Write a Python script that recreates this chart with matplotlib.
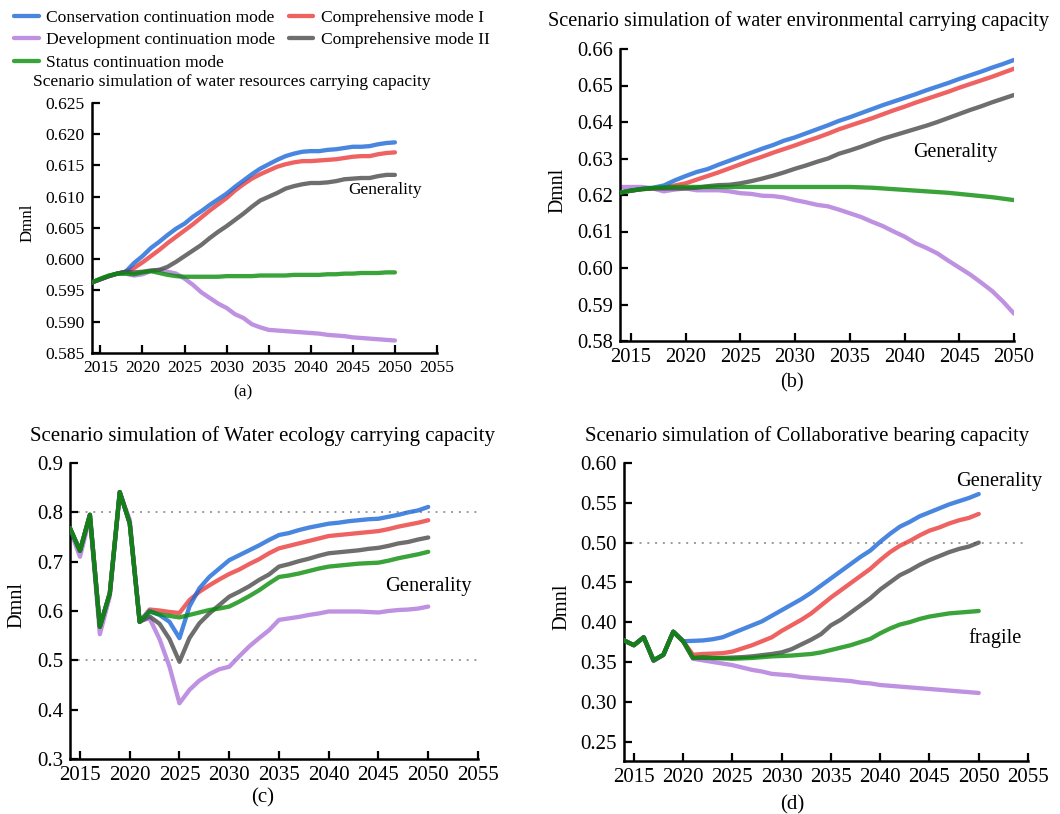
import matplotlib
matplotlib.use("Agg")
import matplotlib.pyplot as plt
import numpy as np

plt.rcParams['font.family'] = ['Liberation Serif', 'DejaVu Serif']

years = list(range(2014, 2051))

series_names = ["Conservation continuation mode", "Development continuation mode",
                "Status continuation mode", "Comprehensive mode I", "Comprehensive mode II"]
colors = {"blue": "#1c68d8", "purple": "#ae76da", "green": "#098c09",
          "red": "#ec3b3b", "gray": "#4a4a4a"}
line_alpha = 0.8

# ---- panel (a): water resources carrying capacity
a_blue = [0.5963, 0.5968, 0.5973, 0.5977, 0.5980, 0.5994, 0.6005, 0.6018, 0.6028, 0.6039,
          0.6049, 0.6057, 0.6068, 0.6077, 0.6087, 0.6096, 0.6105, 0.6116, 0.6126, 0.6136,
          0.6145, 0.6152, 0.6159, 0.6165, 0.6169, 0.6172, 0.6173, 0.6173, 0.6175, 0.6176,
          0.6178, 0.6180, 0.6180, 0.6181, 0.6184, 0.6186, 0.6187]
a_red = [0.5963, 0.5968, 0.5973, 0.5977, 0.5980, 0.5986, 0.5995, 0.6005, 0.6015, 0.6026,
         0.6036, 0.6046, 0.6056, 0.6067, 0.6078, 0.6088, 0.6098, 0.6110, 0.6120, 0.6129,
         0.6136, 0.6142, 0.6148, 0.6152, 0.6155, 0.6157, 0.6157, 0.6158, 0.6159, 0.6160,
         0.6162, 0.6164, 0.6165, 0.6165, 0.6168, 0.6170, 0.6171]
a_gray = [0.5963, 0.5968, 0.5973, 0.5977, 0.5980, 0.5979, 0.5980, 0.5982, 0.5983, 0.5988,
          0.5996, 0.6005, 0.6014, 0.6023, 0.6034, 0.6044, 0.6053, 0.6063, 0.6073, 0.6084,
          0.6094, 0.6100, 0.6106, 0.6113, 0.6117, 0.6120, 0.6122, 0.6122, 0.6123, 0.6125,
          0.6128, 0.6129, 0.6130, 0.6130, 0.6133, 0.6135, 0.6135]
a_purple = [0.5963, 0.5968, 0.5973, 0.5977, 0.5977, 0.5974, 0.5976, 0.5981, 0.5983, 0.5980,
            0.5977, 0.5969, 0.5959, 0.5947, 0.5938, 0.5929, 0.5922, 0.5912, 0.5906, 0.5896,
            0.5891, 0.5887, 0.5886, 0.5885, 0.5884, 0.5883, 0.5882, 0.5881, 0.5879, 0.5878,
            0.5877, 0.5875, 0.5874, 0.5873, 0.5872, 0.5871, 0.5870]
a_green = [0.5963, 0.5969, 0.5974, 0.5977, 0.5977, 0.5976, 0.5979, 0.5981, 0.5978, 0.5975,
           0.5973, 0.5972, 0.5972, 0.5972, 0.5972, 0.5972, 0.5973, 0.5973, 0.5973, 0.5973,
           0.5974, 0.5974, 0.5974, 0.5974, 0.5975, 0.5975, 0.5975, 0.5975, 0.5976, 0.5976,
           0.5977, 0.5977, 0.5978, 0.5978, 0.5978, 0.5979, 0.5979]

# ---- panel (b): water environmental carrying capacity
b_blue = [0.6207, 0.6212, 0.6217, 0.6220, 0.6226, 0.6240, 0.6252, 0.6263, 0.6271, 0.6283,
          0.6294, 0.6305, 0.6316, 0.6327, 0.6337, 0.6349, 0.6358, 0.6369, 0.6380, 0.6391,
          0.6403, 0.6413, 0.6424, 0.6435, 0.6446, 0.6456, 0.6466, 0.6476, 0.6487, 0.6497,
          0.6507, 0.6518, 0.6528, 0.6538, 0.6549, 0.6559, 0.6570]
b_red = [0.6207, 0.6212, 0.6216, 0.6218, 0.6220, 0.6226, 0.6232, 0.6242, 0.6252, 0.6262,
         0.6273, 0.6284, 0.6295, 0.6305, 0.6316, 0.6326, 0.6336, 0.6347, 0.6357, 0.6368,
         0.6380, 0.6390, 0.6400, 0.6410, 0.6421, 0.6432, 0.6442, 0.6453, 0.6463, 0.6473,
         0.6483, 0.6494, 0.6504, 0.6514, 0.6524, 0.6535, 0.6546]
b_gray = [0.6207, 0.6212, 0.6216, 0.6218, 0.6218, 0.6218, 0.6218, 0.6220, 0.6224, 0.6227,
          0.6228, 0.6232, 0.6238, 0.6245, 0.6253, 0.6262, 0.6272, 0.6281, 0.6291, 0.6300,
          0.6313, 0.6322, 0.6332, 0.6343, 0.6354, 0.6363, 0.6372, 0.6381, 0.6390, 0.6400,
          0.6411, 0.6422, 0.6433, 0.6443, 0.6454, 0.6464, 0.6474]
b_purple = [0.6222, 0.6222, 0.6222, 0.6218, 0.6210, 0.6215, 0.6218, 0.6213, 0.6213, 0.6213,
            0.6210, 0.6205, 0.6203, 0.6198, 0.6197, 0.6193, 0.6186, 0.6180, 0.6173, 0.6169,
            0.6160, 0.6150, 0.6140, 0.6127, 0.6115, 0.6100, 0.6086, 0.6068, 0.6055, 0.6040,
            0.6020, 0.6001, 0.5982, 0.5960, 0.5937, 0.5908, 0.5875]
b_green = [0.6206, 0.6212, 0.6216, 0.6219, 0.6221, 0.6222, 0.6222, 0.6222, 0.6222, 0.6222,
           0.6222, 0.6222, 0.6222, 0.6222, 0.6222, 0.6222, 0.6222, 0.6222, 0.6222, 0.6222,
           0.6222, 0.6222, 0.6221, 0.6220, 0.6218, 0.6216, 0.6214, 0.6212, 0.6210, 0.6208,
           0.6206, 0.6203, 0.6200, 0.6197, 0.6194, 0.6190, 0.6186]

# ---- panel (c): water ecology carrying capacity
c_blue = [0.768, 0.722, 0.795, 0.568, 0.636, 0.841, 0.778, 0.578, 0.600, 0.592,
          0.578, 0.545, 0.609, 0.646, 0.669, 0.686, 0.703, 0.713, 0.723, 0.733,
          0.744, 0.754, 0.758, 0.764, 0.769, 0.773, 0.777, 0.779, 0.782, 0.784,
          0.786, 0.787, 0.791, 0.795, 0.800, 0.804, 0.811]
c_red = [0.768, 0.722, 0.795, 0.568, 0.636, 0.841, 0.778, 0.578, 0.603, 0.601,
         0.598, 0.596, 0.622, 0.639, 0.652, 0.664, 0.675, 0.684, 0.695, 0.705,
         0.717, 0.727, 0.732, 0.737, 0.742, 0.747, 0.752, 0.754, 0.756, 0.758,
         0.760, 0.762, 0.766, 0.771, 0.775, 0.779, 0.784]
c_gray = [0.768, 0.722, 0.795, 0.568, 0.636, 0.841, 0.778, 0.578, 0.589, 0.574,
          0.543, 0.497, 0.545, 0.575, 0.595, 0.612, 0.629, 0.639, 0.650, 0.663,
          0.674, 0.690, 0.695, 0.701, 0.706, 0.712, 0.717, 0.719, 0.721, 0.723,
          0.726, 0.728, 0.732, 0.737, 0.740, 0.745, 0.749]
c_purple = [0.765, 0.710, 0.790, 0.553, 0.630, 0.840, 0.785, 0.580, 0.585, 0.543,
            0.487, 0.413, 0.440, 0.459, 0.472, 0.482, 0.487, 0.508, 0.528, 0.545,
            0.561, 0.582, 0.585, 0.588, 0.592, 0.595, 0.599, 0.599, 0.599, 0.599,
            0.598, 0.597, 0.600, 0.602, 0.603, 0.605, 0.609]
c_green = [0.768, 0.722, 0.795, 0.568, 0.636, 0.841, 0.778, 0.578, 0.599, 0.593,
           0.590, 0.587, 0.592, 0.597, 0.602, 0.605, 0.609, 0.619, 0.630, 0.642,
           0.656, 0.669, 0.672, 0.676, 0.681, 0.686, 0.690, 0.692, 0.694, 0.696,
           0.697, 0.698, 0.702, 0.707, 0.711, 0.715, 0.720]

# ---- panel (d): collaborative bearing capacity
d_blue = [0.377, 0.371, 0.381, 0.352, 0.359, 0.388, 0.376, 0.3765, 0.377, 0.3785,
          0.381, 0.386, 0.391, 0.396, 0.401, 0.408, 0.415, 0.422, 0.429, 0.437,
          0.446, 0.455, 0.464, 0.473, 0.482, 0.490, 0.501, 0.511, 0.520, 0.526,
          0.533, 0.538, 0.543, 0.548, 0.552, 0.556, 0.561]
d_red = [0.377, 0.371, 0.381, 0.352, 0.359, 0.388, 0.376, 0.359, 0.360, 0.3605,
         0.361, 0.363, 0.367, 0.371, 0.376, 0.381, 0.389, 0.396, 0.403, 0.411,
         0.421, 0.431, 0.440, 0.449, 0.458, 0.467, 0.478, 0.488, 0.496, 0.502,
         0.509, 0.515, 0.519, 0.524, 0.528, 0.531, 0.536]
d_gray = [0.377, 0.371, 0.381, 0.352, 0.359, 0.388, 0.376, 0.355, 0.355, 0.355,
          0.355, 0.3555, 0.356, 0.357, 0.3585, 0.360, 0.362, 0.366, 0.372, 0.378,
          0.385, 0.396, 0.403, 0.412, 0.421, 0.430, 0.441, 0.450, 0.459, 0.465,
          0.472, 0.478, 0.483, 0.488, 0.492, 0.495, 0.500]
d_purple = [0.377, 0.371, 0.381, 0.351, 0.359, 0.388, 0.376, 0.354, 0.352, 0.350,
            0.348, 0.346, 0.343, 0.340, 0.338, 0.335, 0.334, 0.333, 0.331, 0.330,
            0.329, 0.328, 0.327, 0.326, 0.324, 0.323, 0.321, 0.320, 0.319, 0.318,
            0.317, 0.316, 0.315, 0.314, 0.313, 0.312, 0.311]
d_green = [0.377, 0.371, 0.381, 0.352, 0.359, 0.388, 0.376, 0.355, 0.356, 0.355,
           0.3545, 0.354, 0.3545, 0.355, 0.356, 0.357, 0.3575, 0.358, 0.359, 0.360,
           0.362, 0.365, 0.368, 0.371, 0.375, 0.379, 0.386, 0.392, 0.397, 0.400,
           0.404, 0.407, 0.409, 0.411, 0.412, 0.413, 0.414]

panel_titles = ["Scenario simulation of water resources carrying capacity",
                "Scenario simulation of water environmental carrying capacity",
                "Scenario simulation of Water ecology carrying capacity",
                "Scenario simulation of Collaborative bearing capacity"]
panel_tags = ["(a)", "(b)", "(c)", "(d)"]

W, H = 1060, 814
fig = plt.figure(figsize=(W / 100, H / 100), dpi=100)


def px_axes(l, t, r, b):
    return fig.add_axes([l / W, 1 - b / H, (r - l) / W, (b - t) / H])


def fx(px):
    return px / W


def fy(py):
    return 1 - py / H


panels = [
    dict(rect=(92, 103, 437, 353), data=(a_blue, a_purple, a_green, a_red, a_gray),
         ylim=(0.585, 0.625), yticks=np.arange(0.585, 0.6251, 0.005), yfmt="{:.3f}",
         xlim=(2014, 2055), xticks=range(2015, 2056, 5), fs=12.6, hlines=[]),
    dict(rect=(620, 49, 1014, 341), data=(b_blue, b_purple, b_green, b_red, b_gray),
         ylim=(0.58, 0.66), yticks=np.arange(0.58, 0.6601, 0.01), yfmt="{:.2f}",
         xlim=(2014, 2050), xticks=range(2015, 2051, 5), fs=14.8, hlines=[]),
    dict(rect=(70, 463, 478, 759), data=(c_blue, c_purple, c_green, c_red, c_gray),
         ylim=(0.3, 0.9), yticks=np.arange(0.3, 0.901, 0.1), yfmt="{:.1f}",
         xlim=(2014, 2055), xticks=range(2015, 2056, 5), fs=15, hlines=[0.8, 0.5]),
    dict(rect=(624, 463, 1028, 761), data=(d_blue, d_purple, d_green, d_red, d_gray),
         ylim=(0.2255, 0.60), yticks=np.arange(0.25, 0.601, 0.05), yfmt="{:.2f}",
         xlim=(2014, 2055), xticks=range(2015, 2056, 5), fs=15, hlines=[0.5]),
]

draw_order = [1, 3, 0, 4, 2]  # purple, red, blue, gray, green
color_keys = ["blue", "purple", "green", "red", "gray"]
axes = []
handles = None
for p in panels:
    ax = px_axes(*p["rect"])
    axes.append(ax)
    for y in p["hlines"]:
        ax.axhline(y, color="#9a9a9a", lw=1.4, ls=(0, (1, 3)), zorder=1)
    lines = [None] * 5
    for i in draw_order:
        ln, = ax.plot(years, p["data"][i], color=colors[color_keys[i]], lw=3.1,
                      alpha=line_alpha, solid_capstyle="round", solid_joinstyle="round",
                      zorder=2 + draw_order.index(i))
        lines[i] = ln
    handles = lines
    ax.set_xlim(*p["xlim"])
    ax.set_ylim(*p["ylim"])
    ax.set_xticks(list(p["xticks"]))
    ax.set_yticks(p["yticks"])
    ax.set_yticklabels([p["yfmt"].format(v) for v in p["yticks"]])
    for s in ("top", "right"):
        ax.spines[s].set_visible(False)
    for s in ("left", "bottom"):
        ax.spines[s].set_linewidth(1.8)
    ax.tick_params(direction="in", length=5.5, width=1.6, labelsize=p["fs"], pad=5)
    ax.patch.set_alpha(0)

# titles
fig.text(fx(232), fy(86), panel_titles[0], ha="center", va="baseline", fontsize=12.6)
fig.text(fx(798), fy(26), panel_titles[1], ha="center", va="baseline", fontsize=14.6)
fig.text(fx(262), fy(441), panel_titles[2], ha="center", va="baseline", fontsize=15)
fig.text(fx(807), fy(441), panel_titles[3], ha="center", va="baseline", fontsize=14.9)

# tags
fig.text(fx(243), fy(392), panel_tags[0], ha="center", va="center", fontsize=12.6)
fig.text(fx(792), fy(383), panel_tags[1], ha="center", va="center", fontsize=14.6)
fig.text(fx(263), fy(798), panel_tags[2], ha="center", va="center", fontsize=15)
fig.text(fx(792), fy(805), panel_tags[3], ha="center", va="center", fontsize=15)

# y labels
fig.text(fx(28), fy(223), "Dmnl", rotation=90, ha="center", va="center", fontsize=12.2)
fig.text(fx(558), fy(190), "Dmnl", rotation=90, ha="center", va="center", fontsize=14.3)
fig.text(fx(17), fy(605), "Dmnl", rotation=90, ha="center", va="center", fontsize=14.6)
fig.text(fx(562), fy(607), "Dmnl", rotation=90, ha="center", va="center", fontsize=14.7)

# annotations
axes[0].text(2048.8, 0.6111, "Generality", ha="center", va="center", fontsize=12.5)
axes[1].text(2044.6, 0.6316, "Generality", ha="center", va="center", fontsize=14.4)
axes[2].text(2050.0, 0.649, "Generality", ha="center", va="center", fontsize=14.8)
axes[3].text(2052.1, 0.577, "Generality", ha="center", va="center", fontsize=14.7, clip_on=False)
axes[3].text(2051.6, 0.380, "fragile", ha="center", va="center", fontsize=14.7)

fig.legend(handles, series_names, loc="upper left", bbox_to_anchor=(fx(14), fy(10)),
           ncol=2, frameon=False, fontsize=12.6, handlelength=1.4, handletextpad=0.45,
           columnspacing=0.75, labelspacing=0.34, borderpad=0, borderaxespad=0)

fig.savefig("out.png", dpi=100)
